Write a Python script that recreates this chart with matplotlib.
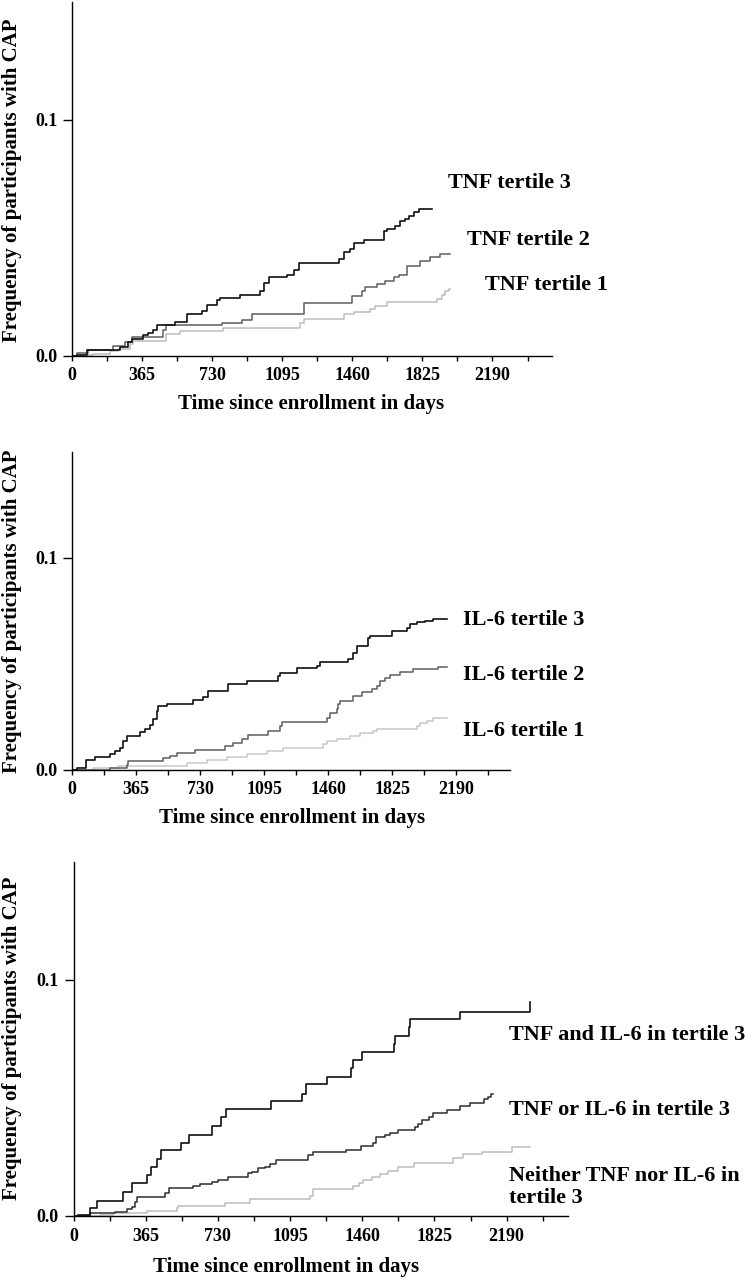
import matplotlib
matplotlib.use('Agg')
import matplotlib.pyplot as plt
from matplotlib.ticker import FixedLocator

plt.rcParams['font.family'] = ['Liberation Serif', 'DejaVu Serif']
plt.rcParams['font.weight'] = 'bold'

W, H = 752, 1280

# --- panel 1: TNF tertiles (days, cumulative frequency) ---
tnf3_days = [0, 24, 77, 250, 294, 311, 372, 398, 424, 441, 537, 598, 676, 702, 754, 772, 876, 980, 998, 1024,
             1119, 1154, 1180, 1389, 1415, 1449, 1467, 1519, 1623, 1641, 1684, 1710, 1736, 1754, 1780, 1806, 1875]
tnf3_vals = [0, 0.0004, 0.0025, 0.0037, 0.0056, 0.0068, 0.0085, 0.0096, 0.011, 0.0129, 0.0141, 0.0174, 0.0188,
             0.0216, 0.0237, 0.0244, 0.0258, 0.0273, 0.0308, 0.0333, 0.0343, 0.0364, 0.039, 0.0407, 0.0438,
             0.0452, 0.0475, 0.0489, 0.0527, 0.0534, 0.0548, 0.0569, 0.0579, 0.0593, 0.0607, 0.0621, 0.0621]
tnf2_days = [0, 24, 85, 216, 276, 311, 476, 490, 780, 885, 937, 1206, 1458, 1510, 1528, 1589, 1632, 1675,
             1702, 1745, 1814, 1867, 1919, 1971]
tnf2_vals = [0, 0.0011, 0.0025, 0.004, 0.0056, 0.0079, 0.011, 0.0129, 0.0138, 0.015, 0.0177, 0.0223, 0.0251,
             0.0273, 0.0291, 0.0305, 0.0315, 0.0333, 0.0343, 0.0381, 0.04, 0.0418, 0.0428, 0.0428]
tnf1_days = [0, 42, 111, 198, 242, 302, 320, 490, 563, 789, 1189, 1206, 1415, 1467, 1554, 1580, 1641, 1901,
             1927, 1945, 1962, 1967]
tnf1_vals = [0, 0.0004, 0.0008, 0.0017, 0.0028, 0.0047, 0.0061, 0.0089, 0.0103, 0.0117, 0.0138, 0.0153,
             0.0174, 0.0184, 0.0195, 0.0209, 0.0226, 0.024, 0.0258, 0.0273, 0.0282, 0.0282]

# --- panel 2: IL-6 tertiles ---
il3_days = [0, 27, 80, 131, 217, 245, 274, 293, 312, 388, 416, 445, 464, 483, 492, 540, 692, 749, 778, 892,
            996, 1177, 1186, 1281, 1395, 1414, 1576, 1604, 1623, 1690, 1700, 1823, 1909, 1928, 1966, 2013,
            2057, 2137]
il3_vals = [0, 0.0008, 0.0047, 0.0058, 0.0075, 0.0086, 0.0102, 0.0134, 0.016, 0.0176, 0.0192, 0.0209, 0.0236,
            0.0275, 0.0299, 0.0307, 0.0327, 0.0343, 0.037, 0.0401, 0.0417, 0.044, 0.0456, 0.048, 0.0487,
            0.0506, 0.0519, 0.055, 0.0582, 0.0621, 0.0629, 0.0653, 0.0668, 0.0684, 0.0695, 0.07, 0.0712, 0.0712]
il2_days = [0, 217, 312, 321, 521, 559, 597, 701, 873, 920, 968, 1006, 1120, 1186, 1196, 1452, 1471, 1509,
            1519, 1528, 1604, 1652, 1709, 1738, 1757, 1785, 1814, 1871, 1947, 2089, 2137]
il2_vals = [0, 0.0008, 0.0022, 0.0039, 0.0055, 0.0066, 0.0079, 0.0094, 0.0113, 0.0126, 0.0142, 0.0165,
            0.0181, 0.0204, 0.0223, 0.0244, 0.0267, 0.0286, 0.0307, 0.0322, 0.0346, 0.0365, 0.038, 0.0393,
            0.0417, 0.0432, 0.0448, 0.0459, 0.0475, 0.0484, 0.0484]
il1_days = [0, 122, 264, 654, 768, 882, 996, 1110, 1205, 1433, 1452, 1509, 1585, 1642, 1719, 1738, 1966,
            1985, 2023, 2061, 2137]
il1_vals = [0, 0.0008, 0.0016, 0.0031, 0.0047, 0.006, 0.0071, 0.0086, 0.0102, 0.0118, 0.0134, 0.0145,
            0.0157, 0.017, 0.0181, 0.0192, 0.0204, 0.0217, 0.0228, 0.0244, 0.0244]

# --- panel 3: combined ---
both_days = [0, 25, 81, 121, 249, 294, 373, 392, 420, 441, 542, 585, 698, 748, 769, 1001, 1156, 1174, 1283,
             1404, 1413, 1458, 1620, 1623, 1695, 1699, 1956, 2309]
both_vals = [0, 0.0004, 0.0032, 0.0065, 0.0103, 0.0138, 0.0174, 0.0209, 0.024, 0.028, 0.0311, 0.0343,
             0.0381, 0.0418, 0.0453, 0.0489, 0.0517, 0.0558, 0.059, 0.0626, 0.0661, 0.0694, 0.0729, 0.0763,
             0.0802, 0.0835, 0.0866, 0.0908]
either_days = [0, 84, 210, 269, 294, 311, 320, 463, 484, 606, 639, 698, 732, 782, 883, 900, 934, 967, 992,
               1026, 1186, 1211, 1379, 1455, 1514, 1531, 1573, 1598, 1640, 1724, 1741, 1761, 1795, 1820, 1888,
               1955, 2005, 2073, 2098, 2110, 2120]
either_vals = [0, 0.0011, 0.0018, 0.0028, 0.004, 0.0061, 0.0079, 0.0099, 0.0117, 0.0127, 0.0136, 0.0145,
               0.0153, 0.0167, 0.0181, 0.0188, 0.0202, 0.0209, 0.022, 0.0237, 0.0258, 0.0273, 0.028, 0.0298,
               0.0308, 0.0333, 0.0343, 0.0353, 0.0364, 0.0376, 0.039, 0.0407, 0.0421, 0.0435, 0.0449, 0.0466,
               0.0478, 0.0494, 0.0506, 0.0517, 0.0517]
neither_days = [0, 135, 202, 370, 521, 530, 765, 891, 1194, 1213, 1415, 1441, 1466, 1508, 1550, 1592, 1643,
                1719, 1921, 1971, 2064, 2216, 2309]
neither_vals = [0, 0.0004, 0.0011, 0.0023, 0.0032, 0.0042, 0.0056, 0.0071, 0.0085, 0.0113, 0.0127, 0.0141,
                0.0153, 0.0164, 0.0178, 0.0192, 0.0209, 0.0223, 0.0244, 0.0263, 0.0272, 0.0294, 0.0294]

xticks = [0, 365, 730, 1095, 1460, 1825, 2190]
xminor = [182.5, 547.5, 912.5, 1277.5, 1642.5, 2007.5, 2372.5]
ylabel = 'Frequency of participants with CAP'
xlabel = 'Time since enrollment in days'

fig = plt.figure(figsize=(W / 100, H / 100), dpi=100)


def make_axes(left, right, top, bottom):
    ax = fig.add_axes([left / W, 1 - bottom / H, (right - left) / W, (bottom - top) / H])
    ax.set_xlim(0, 2500)
    ax.set_ylim(0, 0.15)
    for s in ['top', 'right']:
        ax.spines[s].set_visible(False)
    for s in ['left', 'bottom']:
        ax.spines[s].set_linewidth(1.0)
    ax.xaxis.set_major_locator(FixedLocator(xticks))
    ax.xaxis.set_minor_locator(FixedLocator(xminor))
    ax.set_xticklabels([str(t) for t in xticks])
    ax.set_yticks([0, 0.1])
    ax.set_yticklabels(['0.0', '0.1'])
    ax.tick_params(axis='x', which='both', direction='out', length=3.3, width=1, labelsize=13, pad=5)
    ax.tick_params(axis='y', direction='out', length=6.5, width=1, labelsize=13, pad=4)
    ax.patch.set_alpha(0)
    return ax


def ftext(x, y, s, **kw):
    fig.text(x / W, 1 - y / H, s, fontweight='bold', **kw)


# panel 1
ax1 = make_axes(72, 552, 1.5, 355.5)
ax1.step(tnf1_days, tnf1_vals, where='post', color='#bdbdbd', lw=1.1)
ax1.step(tnf2_days, tnf2_vals, where='post', color='#5e5e5e', lw=1.1)
ax1.step(tnf3_days, tnf3_vals, where='post', color='#111111', lw=1.2)
ftext(448, 183, 'TNF tertile 3', fontsize=16, va='center')
ftext(467, 240, 'TNF tertile 2', fontsize=16, va='center')
ftext(485, 285, 'TNF tertile 1', fontsize=16, va='center')
ftext(311, 404, xlabel, fontsize=15, ha='center', va='center')
ftext(12, 180, ylabel, fontsize=15, ha='center', va='center', rotation=90)

# panel 2
ax2 = make_axes(72, 510.4, 451.5, 769.5)
ax2.step(il1_days, il1_vals, where='post', color='#c8c8c8', lw=1.1)
ax2.step(il2_days, il2_vals, where='post', color='#5e5e5e', lw=1.1)
ax2.step(il3_days, il3_vals, where='post', color='#111111', lw=1.2)
ftext(463, 620, 'IL-6 tertile 3', fontsize=16, va='center')
ftext(463, 675, 'IL-6 tertile 2', fontsize=16, va='center')
ftext(463, 731, 'IL-6 tertile 1', fontsize=16, va='center')
ftext(292, 818, xlabel, fontsize=15, ha='center', va='center')
ftext(12, 611, ylabel, fontsize=15, ha='center', va='center', rotation=90)

# panel 3
ax3 = make_axes(73.5, 568, 862, 1216)
ax3.step(neither_days, neither_vals, where='post', color='#bdbdbd', lw=1.1)
ax3.step(either_days, either_vals, where='post', color='#2e2e2e', lw=1.1)
ax3.step(both_days, both_vals, where='post', color='#111111', lw=1.2)
ftext(509, 1035, 'TNF and IL-6 in tertile 3', fontsize=16, va='center')
ftext(509, 1110, 'TNF or IL-6 in tertile 3', fontsize=16, va='center')
ftext(509, 1187, 'Neither TNF nor IL-6 in\ntertile 3', fontsize=16, va='center', linespacing=1.1)
ftext(286, 1267, xlabel, fontsize=15, ha='center', va='center')
ftext(12, 1038, ylabel, fontsize=15, ha='center', va='center', rotation=90)

fig.savefig('out.png', dpi=100)
